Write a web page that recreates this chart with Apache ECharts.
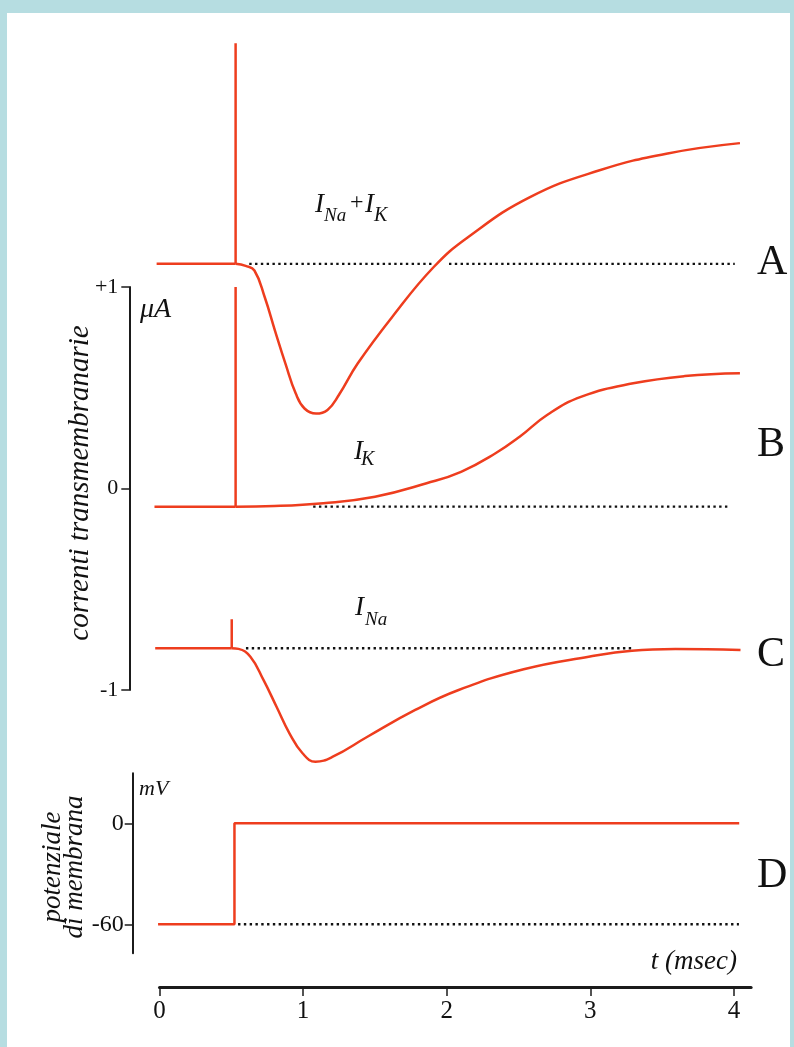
<!DOCTYPE html>
<html>
<head>
<meta charset="utf-8">
<script src="https://cdn.jsdelivr.net/npm/echarts@6/dist/echarts.min.js"></script>
<style>
  html, body { margin: 0; padding: 0; background: #b6dde1; }
  #sheet { position: absolute; left: 7px; top: 13px; width: 783px; height: 1034px; background: #fff; }
  #chart { position: absolute; left: 0; top: 0; width: 794px; height: 1047px; }
</style>
</head>
<body>
<div id="sheet"></div>
<div id="chart"></div>
<script>
// tick labels
const ticksT = [0, 1, 2, 3, 4];
const ticksCurrent = [-1, 0, 1];
const ticksVoltage = [-60, 0];

// A: I_Na + I_K  (t in msec, current in uA, trace drawn at its own baseline)
const baseA = 1.115;
const preA = [[-0.02, 1.115], [0.53, 1.115]];
const spikeA = [[0.53, 1.115], [0.53, 2.21]];
const curveA = [[0.53, 1.115], [0.6, 1.105], [0.661, 1.082], [0.733, 0.949], [0.804, 0.784],
  [0.877, 0.62], [0.949, 0.471], [1.01, 0.397], [1.09, 0.372], [1.17, 0.39], [1.25, 0.465],
  [1.38, 0.62], [1.619, 0.85], [1.908, 1.098], [2.148, 1.247], [2.58, 1.446],
  [3.059, 1.578], [3.539, 1.663], [4.042, 1.714]];
const dotsA1 = [[0.625, baseA], [1.896, baseA]];
const dotsA2 = [[2.016, baseA], [4.006, baseA]];

// B: I_K
const baseB = -0.09;
const preB = [[-0.035, -0.09], [0.53, -0.09]];
const spikeB = [[0.53, -0.09], [0.53, 1.0]];
const curveB = [[0.53, -0.09], [0.8, -0.087], [1.141, -0.073], [1.501, -0.041], [1.86, 0.026],
  [2.1, 0.083], [2.34, 0.175], [2.508, 0.257], [2.699, 0.365], [2.939, 0.456], [3.299, 0.522],
  [3.659, 0.558], [4.042, 0.572]];
const dotsB = [[1.07, baseB], [3.97, baseB]];

// C: I_Na
const baseC = -0.793;
const preC = [[-0.03, -0.793], [0.503, -0.793]];
const spikeC = [[0.503, -0.793], [0.503, -0.649]];
const curveC = [[0.503, -0.793], [0.55, -0.796], [0.633, -0.835], [0.724, -0.95], [0.815, -1.083],
  [0.905, -1.215], [0.996, -1.314], [1.086, -1.356], [1.207, -1.331], [1.448, -1.232],
  [1.781, -1.099], [2.083, -1.0], [2.536, -0.897], [2.989, -0.835], [3.29, -0.805],
  [3.593, -0.797], [4.046, -0.802]];
const dotsC = [[0.602, baseC], [3.304, baseC]];

// D: membrane potential (mV)
const stepD = [[-0.01, -60], [0.522, -60], [0.522, 0], [4.037, 0]];
const dotsD = [[0.547, -60], [4.035, -60]];

// layout (px)
const X0 = 159.5, KX = 143.6;          // t = 0 and px per msec
const Y0_I = 488.5, KI = 201.5;        // 0 uA and px per uA
const Y0_V = 823.3, KV = 101 / 60;     // 0 mV and px per mV
const T_MAX = 4.12;
const RIGHT = 794 - (X0 + T_MAX * KX);

const RED = '#ee3d1e';
const INK = '#1b1b1b';
const SERIF = '"Liberation Serif", "DejaVu Serif", serif';

let chart = echarts.init(document.querySelector('#chart'));

function trace(data, xi, smooth) {
  return {
    type: 'line', data: data, xAxisIndex: xi, yAxisIndex: xi,
    showSymbol: false, smooth: smooth ? 0.45 : false,
    lineStyle: { color: RED, width: 2.5 }, silent: true, animation: false
  };
}

function dots(data, xi) {
  return {
    type: 'line', data: data, xAxisIndex: xi, yAxisIndex: xi, showSymbol: false,
    lineStyle: { color: '#111', width: 2.4, type: [2.4, 3.4] }, silent: true, animation: false
  };
}

function label(text, x, y, size, italic, align) {
  return {
    type: 'text', x: x, y: y, silent: true,
    style: {
      text: text, fill: '#111', textAlign: align || 'left', textVerticalAlign: 'middle',
      font: (italic ? 'italic ' : '') + size + 'px ' + SERIF
    }
  };
}

const iMin = -1.5, iMax = 2.3;
const vMax = (Y0_V - 773.3) / KV, vMin = -(953.3 - Y0_V) / KV;
const dLeft = 132.7;

let option = {
  animation: false,
  grid: [
    // currents, data
    { left: X0 - 0.05 * KX, right: RIGHT, top: Y0_I - iMax * KI, height: (iMax - iMin) * KI },
    // currents, visible axis
    { left: 129.3, width: 20, top: Y0_I - KI, height: 2 * KI },
    // membrane potential
    { left: dLeft, right: RIGHT, top: 773.3, height: 180 },
    // time axis
    { left: X0, right: RIGHT, top: 950, height: 37 }
  ],
  xAxis: [
    { gridIndex: 0, type: 'value', min: -0.05, max: T_MAX, show: false },
    { gridIndex: 1, type: 'value', min: 0, max: 1, show: false },
    { gridIndex: 2, type: 'value', min: (dLeft - X0) / KX, max: T_MAX, show: false },
    {
      gridIndex: 3, type: 'value', min: 0, max: T_MAX, splitLine: { show: false },
      axisLine: { onZero: false, lineStyle: { color: INK, width: 3 } },
      axisTick: { customValues: ticksT, length: 9, lineStyle: { color: INK, width: 1.5 } },
      axisLabel: { customValues: ticksT, color: '#111', fontFamily: SERIF, fontSize: 25, margin: 12 }
    }
  ],
  yAxis: [
    { gridIndex: 0, type: 'value', min: iMin, max: iMax, show: false },
    {
      gridIndex: 1, type: 'value', min: -1, max: 1, interval: 1, splitLine: { show: false },
      axisLine: { show: true, onZero: false, lineStyle: { color: INK, width: 2 } },
      axisTick: { show: true, customValues: ticksCurrent, length: 8, lineStyle: { color: INK, width: 1.5 } },
      axisLabel: {
        customValues: ticksCurrent, color: '#111', fontFamily: SERIF, fontSize: 22, margin: 11,
        formatter: function (v) { return v > 0 ? '+' + v : String(v); }
      }
    },
    {
      gridIndex: 2, type: 'value', min: vMin, max: vMax, splitLine: { show: false },
      axisLine: { show: true, onZero: false, lineStyle: { color: INK, width: 2 } },
      axisTick: { show: true, customValues: ticksVoltage, length: 8, lineStyle: { color: INK, width: 1.5 } },
      axisLabel: { customValues: ticksVoltage, color: '#111', fontFamily: SERIF, fontSize: 24, margin: 9 }
    },
    { gridIndex: 3, type: 'value', min: 0, max: 1, show: false }
  ],
  series: [
    dots(dotsA1, 0), dots(dotsA2, 0), dots(dotsB, 0), dots(dotsC, 0), dots(dotsD, 2),
    trace(preA, 0), trace(spikeA, 0), trace(curveA, 0, true),
    trace(preB, 0), trace(spikeB, 0), trace(curveB, 0, true),
    trace(preC, 0), trace(spikeC, 0), trace(curveC, 0, true),
    trace(stepD, 2)
  ],
  graphic: [
    // I_Na + I_K
    label('I', 315, 205, 27, true), label('Na', 324, 216, 19, true),
    label('+', 350, 203, 24, false), label('I', 365, 205, 27, true), label('K', 374, 216, 20, true),
    // I_K
    label('I', 354, 452, 27, true), label('K', 361, 460, 20, true),
    // I_Na
    label('I', 355, 608, 27, true), label('Na', 365, 620, 19, true),
    // panel letters
    label('A', 757, 263, 42, false), label('B', 757, 445, 42, false),
    label('C', 757, 655, 42, false), label('D', 757, 876, 42, false),
    // units and axis names
    label('\u03bcA', 140, 310, 28, true), label('mV', 139, 789, 22, true),
    label('t (msec)', 737, 962, 27, true, 'right'),
    Object.assign(label('correnti transmembranarie', 80, 483, 29, true, 'center'), { rotation: Math.PI / 2 }),
    Object.assign(label('potenziale\ndi membrana', 64, 867, 27, true, 'center'), { rotation: Math.PI / 2 })
  ]
};

option.graphic[option.graphic.length - 1].style.lineHeight = 22;

chart.setOption(option);
</script>
</body>
</html>
